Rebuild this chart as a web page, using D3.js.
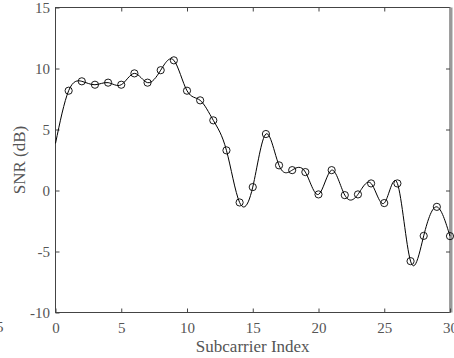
<!DOCTYPE html>
<html>
<head>
<meta charset="utf-8">
<script src="https://cdn.jsdelivr.net/npm/d3@7"></script>
<style>
  body { margin: 0; background: #fff; }
  svg { display: block; }
  text { font-family: "Liberation Serif", "Times New Roman", serif; }
</style>
</head>
<body>
<svg id="chart" width="454" height="358"></svg>
<script>
// subcarrier indices and SNR values
const subcarriers = [1, 2, 3, 4, 5, 6, 7, 8, 9, 10, 11, 12, 13, 14, 15,
  16, 17, 18, 19, 20, 21, 22, 23, 24, 25, 26, 27, 28, 29, 30];
const snr = [8.18, 8.95, 8.67, 8.84, 8.67, 9.6, 8.84, 9.86, 10.67, 8.18,
  7.39, 5.75, 3.29, -0.98, 0.28, 4.63, 2.06, 1.67, 1.51, -0.32,
  1.67, -0.38, -0.32, 0.58, -1.03, 0.58, -5.79, -3.72, -1.34, -3.74];
// spline start at index 0 (no marker there)
const lineStart = { x: 0, y: 3.86 };

const xTicks = [0, 5, 10, 15, 20, 25, 30];
const yTicks = [-10, -5, 0, 5, 10, 15];

const svg = d3.select("#chart");
const margin = { top: 7.5, right: 4, bottom: 45.5, left: 55.5 };
const W = 454, H = 358;
const innerW = W - margin.left - margin.right;
const innerH = H - margin.top - margin.bottom;

const x = d3.scaleLinear().domain([0, 30]).range([margin.left, margin.left + innerW]);
const y = d3.scaleLinear().domain([-10, 15]).range([margin.top + innerH, margin.top]);

const axisColor = "#444";
const labelColor = "#555";
const serif = "'Liberation Serif', serif";

// box
svg.append("rect")
  .attr("x", x(0)).attr("y", y(15))
  .attr("width", x(30) - x(0)).attr("height", y(-10) - y(15))
  .attr("fill", "none").attr("stroke", axisColor).attr("stroke-width", 1);

// thicker gray right edge
svg.append("line")
  .attr("x1", x(30) + 1).attr("x2", x(30) + 1)
  .attr("y1", y(15)).attr("y2", y(-10))
  .attr("stroke", "#999").attr("stroke-width", 3);

// axes with inward ticks, plain hyphen for negatives
const fmt = d => String(d);
const xAxisB = d3.axisBottom(x).tickValues(xTicks).tickFormat(fmt)
  .tickSizeInner(-4).tickSizeOuter(0).tickPadding(9.5);
const yAxisL = d3.axisLeft(y).tickValues(yTicks).tickFormat(fmt)
  .tickSizeInner(-4).tickSizeOuter(0).tickPadding(5.5);

const gx = svg.append("g").attr("transform", `translate(0,${y(-10)})`).call(xAxisB);
const gy = svg.append("g").attr("transform", `translate(${x(0)},0)`).call(yAxisL);
[gx, gy].forEach(g => {
  g.attr("font-family", serif);
  g.select(".domain").remove();
  g.selectAll("line").attr("stroke", axisColor);
  g.selectAll("text")
    .attr("fill", labelColor)
    .style("font-size", "15px")
    .style("font-family", serif);
});

// top and right ticks
svg.append("g").attr("transform", `translate(0,${y(15)})`)
  .call(d3.axisTop(x).tickValues(xTicks.slice(1, -1)).tickSizeInner(-4).tickSizeOuter(0).tickFormat(""))
  .call(g => g.select(".domain").remove())
  .selectAll("line").attr("stroke", axisColor);
svg.append("g").attr("transform", `translate(${x(30)},0)`)
  .call(d3.axisRight(y).tickValues(yTicks.slice(1, -1)).tickSizeInner(-4).tickSizeOuter(0).tickFormat(""))
  .call(g => g.select(".domain").remove())
  .selectAll("line").attr("stroke", axisColor);

// axis labels
svg.append("text")
  .attr("x", x(15)).attr("y", 352)
  .attr("text-anchor", "middle")
  .attr("fill", labelColor)
  .style("font-size", "17px")
  .text("Subcarrier Index");

svg.append("text")
  .attr("transform", `translate(25,${(y(15) + y(-10)) / 2}) rotate(-90)`)
  .attr("text-anchor", "middle")
  .attr("fill", labelColor)
  .style("font-size", "17px")
  .text("SNR (dB)");

// clipped stray label at the left edge
svg.append("text")
  .attr("x", 3.5).attr("y", 332)
  .attr("text-anchor", "end")
  .attr("fill", labelColor)
  .style("font-size", "15px")
  .text("5");

// data
const pts = subcarriers.map((s, i) => ({ x: s, y: snr[i] }));
const linePts = [lineStart].concat(pts);

const line = d3.line()
  .x(d => x(d.x))
  .y(d => y(d.y))
  .curve(d3.curveNatural);

svg.append("path")
  .datum(linePts)
  .attr("d", line)
  .attr("fill", "none")
  .attr("stroke", "#000")
  .attr("stroke-width", 1);

svg.selectAll("circle.pt")
  .data(pts)
  .enter()
  .append("circle")
  .attr("class", "pt")
  .attr("cx", d => x(d.x))
  .attr("cy", d => y(d.y))
  .attr("r", 3.6)
  .attr("fill", "none")
  .attr("stroke", "#000")
  .attr("stroke-width", 0.9);
</script>
</body>
</html>
